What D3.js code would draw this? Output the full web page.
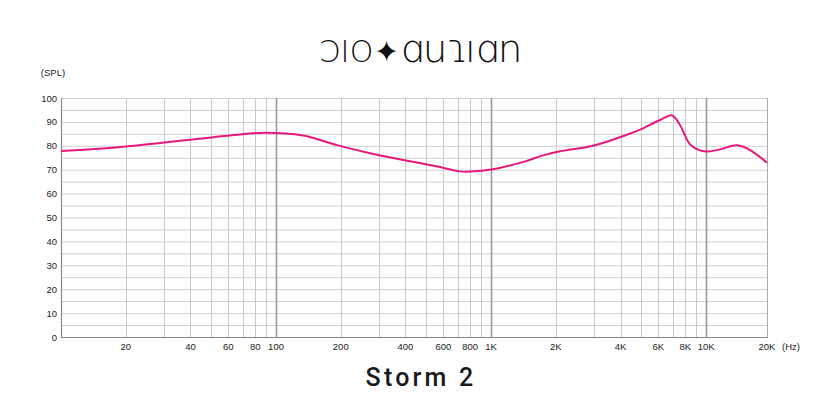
<!DOCTYPE html>
<html><head><meta charset="utf-8">
<script src="https://cdn.jsdelivr.net/npm/d3@7"></script>
<style>body{margin:0;background:#fff}svg{display:block}</style>
</head><body>
<svg id="c" width="840" height="420"></svg>
<script>
const freqs = [10,19,42.5,63.8,88.9,133.5,190,274,390,555,717,799,1022,1455,1745,2094,2981,4246,4932,6109,6949,7572,8427,9376,10216,11618,13942,16023,19200];
const spl   = [77.8,79.5,82.8,84.5,85.5,84.3,80.4,76.9,74.1,71.4,69.3,69.2,70.2,73.6,76.0,77.7,80.0,84.5,86.8,90.8,92.7,88.6,80.6,78.1,77.6,78.5,80.2,78.2,72.9];
const xTickValues = [20,40,60,80,100,200,400,600,800,1000,2000,4000,6000,8000,10000,20000];
const xTickLabels = ["20","40","60","80","100","200","400","600","800","1K","2K","4K","6K","8K","10K","20K"];
const yTickValues = [0,10,20,30,40,50,60,70,80,90,100];
const gridFreqs = [20,30,40,50,60,70,80,90,100,200,300,400,500,600,700,800,900,1000,2000,3000,4000,5000,6000,7000,8000,9000,10000];
const majorFreqs = [100,1000,10000];
const title = "Storm 2";
const brandCaps = "ƆIO✦";
const brandLower = "ɑuɿıɑn";

const svg = d3.select("#c");
const L=61,R=767,T=98,B=337;
const x = d3.scaleLog().domain([10,19200]).range([L,R]).clamp(true);
const y = d3.scaleLinear().domain([0,100]).range([B,T]);

// horizontal grid every 5
svg.append("g").selectAll("line").data(d3.range(5,101,5)).join("line")
  .attr("x1",L).attr("x2",R).attr("y1",d=>y(d)+0.5).attr("y2",d=>y(d)+0.5)
  .attr("stroke","#cfcfcf").attr("stroke-width",1);
// vertical grid
svg.append("g").selectAll("line").data(gridFreqs).join("line")
  .attr("x1",d=>Math.round(x(d))+0.5).attr("x2",d=>Math.round(x(d))+0.5).attr("y1",T).attr("y2",B)
  .attr("stroke",d=>majorFreqs.includes(d)?"#9a9a9a":"#c8c8c8")
  .attr("stroke-width",d=>majorFreqs.includes(d)?1.6:1);
// frame
svg.append("line").attr("x1",R+0.5).attr("x2",R+0.5).attr("y1",T).attr("y2",B).attr("stroke","#aaa");
svg.append("line").attr("x1",L+0.5).attr("x2",L+0.5).attr("y1",T).attr("y2",B+0.5).attr("stroke","#888").attr("stroke-width",1.2);
svg.append("line").attr("x1",L).attr("x2",R+1).attr("y1",B+0.5).attr("y2",B+0.5).attr("stroke","#888").attr("stroke-width",1.2);

// curve
const line = d3.line().x((d,i)=>x(freqs[i])).y(d=>y(d)).curve(d3.curveCatmullRom.alpha(0.5));
svg.append("path").datum(spl).attr("d",line).attr("fill","none")
  .attr("stroke","#e5197c").attr("stroke-width",2);

// y labels
svg.append("g").selectAll("text").data(yTickValues).join("text")
  .attr("x",57).attr("y",d=>y(d)+3.5).attr("text-anchor","end")
  .attr("font-family","Liberation Sans, Arial, sans-serif").attr("font-size",9.5).attr("fill","#222")
  .text(d=>d);
svg.append("text").attr("x",53).attr("y",76).attr("text-anchor","middle")
  .attr("font-family","Liberation Sans, Arial, sans-serif").attr("font-size",9.5).attr("fill","#222").text("(SPL)");
// x labels
svg.append("g").selectAll("text").data(xTickValues).join("text")
  .attr("x",d=>x(d)).attr("y",350).attr("text-anchor","middle")
  .attr("font-family","Liberation Sans, Arial, sans-serif").attr("font-size",9.5).attr("fill","#222")
  .text((d,i)=>xTickLabels[i]);
svg.append("text").attr("x",791).attr("y",350).attr("text-anchor","middle")
  .attr("font-family","Liberation Sans, Arial, sans-serif").attr("font-size",9.5).attr("fill","#222").text("(Hz)");

// title
svg.append("text").attr("x",421).attr("y",386).attr("text-anchor","middle")
  .attr("font-family","Roboto, Liberation Sans, sans-serif").attr("font-size",25).attr("font-weight",500)
  .attr("letter-spacing",3.2).attr("fill","#1a1a1a").text(title);
// brand
const bt = svg.append("text").attr("x",420).attr("y",62).attr("text-anchor","middle")
  .attr("font-family","DejaVu Sans, sans-serif").attr("font-weight",200).attr("fill","#111");
bt.append("tspan").attr("font-size",30).attr("letter-spacing",0.5).text(brandCaps);
bt.append("tspan").attr("font-size",39).attr("letter-spacing",-1.5).text(brandLower);
</script>
</body></html>
